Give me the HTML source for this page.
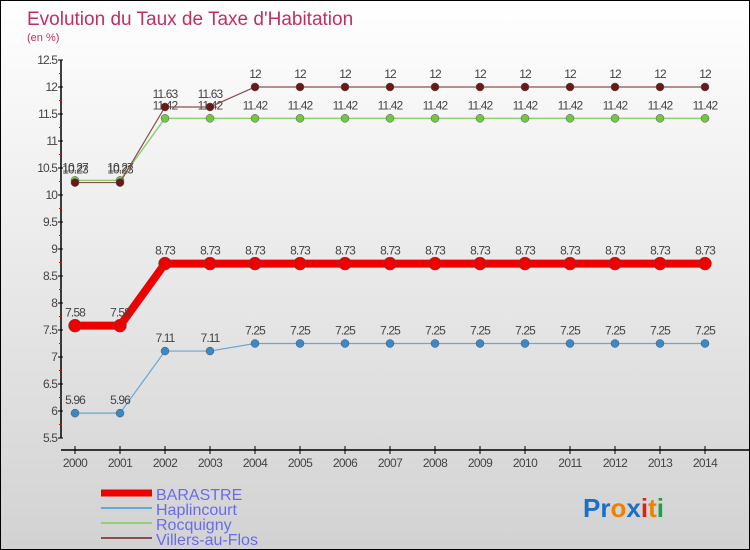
<!DOCTYPE html>
<html><head><meta charset="utf-8"><style>
body{margin:0}
#c{position:relative;width:750px;height:550px;box-sizing:border-box;border:1px solid #000;background:linear-gradient(#ffffff,#d2d2d2);font-family:"Liberation Sans",sans-serif;overflow:hidden}
svg text{font-family:"Liberation Sans",sans-serif}
</style></head><body>
<div id="c">
<svg id="s" width="748" height="548">
<text x="26" y="24" font-size="19" fill="#c0305f">Evolution du Taux de Taxe d'Habitation</text>
<text x="26" y="40" font-size="11" fill="#c0305f">(en %)</text>
<g id="axes"></g><g id="series"></g>
<g>
<line x1="100" y1="492" x2="151" y2="492" stroke="#e00" stroke-width="7"/>
<text x="155" y="499" font-size="16" fill="#6a6aee">BARASTRE</text>
<line x1="100" y1="507" x2="151" y2="507" stroke="#6aa6d0" stroke-width="2"/>
<text x="155" y="514" font-size="16" fill="#6a6aee">Haplincourt</text>
<line x1="100" y1="522" x2="151" y2="522" stroke="#90d070" stroke-width="2"/>
<text x="155" y="529" font-size="16" fill="#6a6aee">Rocquigny</text>
<line x1="100" y1="537" x2="151" y2="537" stroke="#8a5050" stroke-width="2"/>
<text x="155" y="544" font-size="16" fill="#6a6aee">Villers-au-Flos</text>
</g>
<text x="582" y="516" font-size="26" font-weight="bold"><tspan fill="#1a70c8">Pr</tspan><tspan fill="#f08000">o</tspan><tspan fill="#1a70c8">x</tspan><tspan fill="#e02010">i</tspan><tspan fill="#f08000">t</tspan><tspan fill="#20a040">i</tspan></text>
</svg>
</div>
<script>
const years=[2000,2001,2002,2003,2004,2005,2006,2007,2008,2009,2010,2011,2012,2013,2014];
const yTicks=[5.5,6,6.5,7,7.5,8,8.5,9,9.5,10,10.5,11,11.5,12,12.5];
const barastre=[7.58,7.58,8.73,8.73,8.73,8.73,8.73,8.73,8.73,8.73,8.73,8.73,8.73,8.73,8.73];
const haplincourt=[5.96,5.96,7.11,7.11,7.25,7.25,7.25,7.25,7.25,7.25,7.25,7.25,7.25,7.25,7.25];
const rocquigny=[10.27,10.27,11.42,11.42,11.42,11.42,11.42,11.42,11.42,11.42,11.42,11.42,11.42,11.42,11.42];
const villers=[10.23,10.23,11.63,11.63,12,12,12,12,12,12,12,12,12,12,12];
const NS='http://www.w3.org/2000/svg';
function X(i){return 74+i*45;}
function Y(v){return 194-(v-10)*54;}
function mk(t,a,p){const e=document.createElementNS(NS,t);for(const k in a)e.setAttribute(k,a[k]);p.appendChild(e);return e;}
const ax=document.getElementById('axes');
mk('line',{x1:60,y1:Y(12.5),x2:60,y2:Y(5.5),stroke:'#000','stroke-width':1.5},ax);
mk('line',{x1:60,y1:449,x2:748,y2:449,stroke:'#000','stroke-width':1.5},ax);
yTicks.forEach(v=>{
 mk('line',{x1:57,y1:Y(v),x2:62,y2:Y(v),stroke:'#000'},ax);
 const t=mk('text',{x:56,y:Y(v)+4,'font-size':12,'text-anchor':'end',fill:'#444','letter-spacing':'-0.9'},ax);
 
 
 t.textContent=String(v);
 if(v<12.5)mk('line',{x1:58,y1:Y(v+0.25),x2:61,y2:Y(v+0.25),stroke:'#e00'},ax);
});
years.forEach((yr,i)=>{
 mk('line',{x1:X(i),y1:445,x2:X(i),y2:453,stroke:'#000'},ax);
 const t=mk('text',{x:X(i),y:466,'font-size':12,'text-anchor':'middle',fill:'#444','letter-spacing':'-0.6'},ax);
 
 
 t.textContent=yr;
});
const sg=document.getElementById('series');
function draw(vals,color,w,r,name,dot){
 const g=mk('g',{},sg);
 
 
 mk('polyline',{points:vals.map((v,i)=>X(i)+','+Y(v)).join(' '),fill:'none',stroke:color,'stroke-width':w},g);
 vals.forEach((v,i)=>{
  const c=mk('circle',{cx:X(i),cy:Y(v),r:r,fill:dot,stroke:'#555','stroke-width':0.5},g);
  
  
  const t=mk('text',{x:X(i),y:Y(v)-9,'font-size':12,'text-anchor':'middle',fill:'#444','letter-spacing':'-0.9'},g);
  
  
  t.textContent=String(v);
 });
}
draw(haplincourt,'#6aa6d0',1.2,4,'series-haplincourt','#3a88c8');
draw(rocquigny,'#90d070',1.5,4,'series-rocquigny','#70c840');
draw(villers,'#8a5050',1.2,4,'series-villers','#6a1818');
draw(barastre,'#ee0000',8,6.5,'series-barastre','#ee0000');
</script>
</body></html>
